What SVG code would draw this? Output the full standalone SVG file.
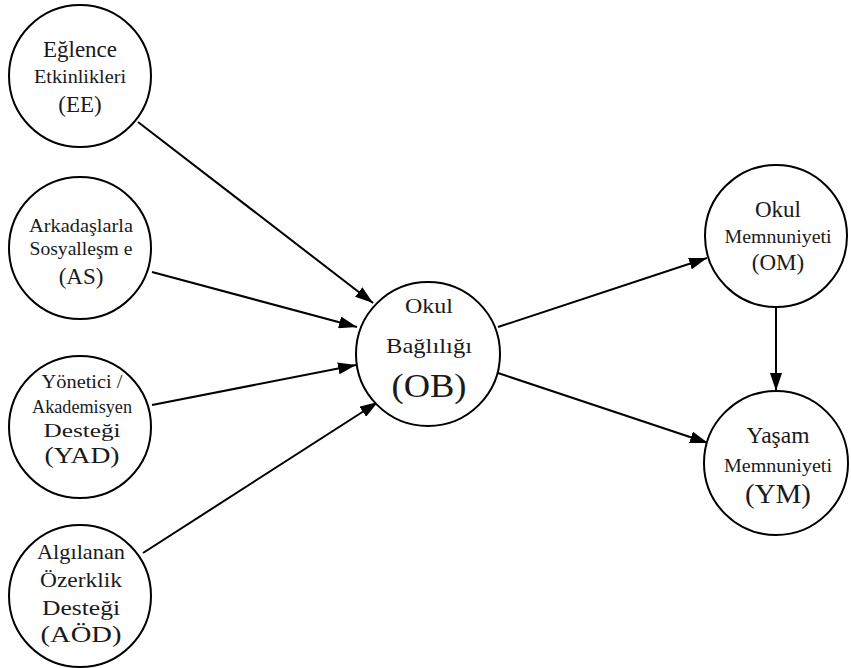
<svg xmlns="http://www.w3.org/2000/svg" width="851" height="668" viewBox="0 0 851 668">
<style>
.n{fill:#fff;stroke:#000;stroke-width:2}
.c line{stroke:#000;stroke-width:2}
text{font-family:"Liberation Serif","Times New Roman",serif;fill:#1a1a1a;text-anchor:middle}
</style>
<defs>
<marker id="ah" viewBox="0 0 18 12" refX="18" refY="6" markerWidth="18" markerHeight="12" markerUnits="userSpaceOnUse" orient="auto">
<path d="M0,0L18,6L0,12z" fill="#000"/>
</marker>
</defs>
<rect width="851" height="668" fill="#fff"/>
<g class="c">
<line x1="138" y1="122" x2="373" y2="303" marker-end="url(#ah)"/>
<line x1="152" y1="272" x2="357" y2="327" marker-end="url(#ah)"/>
<line x1="152" y1="405" x2="356" y2="365" marker-end="url(#ah)"/>
<line x1="143" y1="553" x2="378" y2="402" marker-end="url(#ah)"/>
<line x1="498" y1="327" x2="707" y2="258" marker-end="url(#ah)"/>
<line x1="498" y1="373" x2="708" y2="443" marker-end="url(#ah)"/>
<line x1="776" y1="307" x2="776" y2="391" marker-end="url(#ah)"/>
</g>
<g id="EE">
<circle class="n" cx="80" cy="76" r="71"/>
<text x="80" y="57" font-size="23">Eğlence</text>
<text x="80" y="83" font-size="18" textLength="92" lengthAdjust="spacingAndGlyphs">Etkinlikleri</text>
<text x="80" y="112" font-size="23">(EE)</text>
</g>
<g id="AS">
<circle class="n" cx="80" cy="248" r="71"/>
<text x="81" y="232" font-size="18" textLength="104" lengthAdjust="spacingAndGlyphs">Arkadaşlarla</text>
<text x="81" y="255" font-size="18" textLength="103" lengthAdjust="spacingAndGlyphs">Sosyalleşm e</text>
<text x="81" y="284" font-size="23">(AS)</text>
</g>
<g id="YAD">
<circle class="n" cx="80" cy="427" r="71"/>
<text x="82" y="388" font-size="19" textLength="81" lengthAdjust="spacingAndGlyphs">Yönetici /</text>
<text x="82" y="413" font-size="19" textLength="100" lengthAdjust="spacingAndGlyphs">Akademisyen</text>
<text x="82" y="437" font-size="19" textLength="77" lengthAdjust="spacingAndGlyphs">Desteği</text>
<text x="82" y="463" font-size="23" textLength="75" lengthAdjust="spacingAndGlyphs">(YAD)</text>
</g>
<g id="AOD">
<circle class="n" cx="80" cy="596" r="71"/>
<text x="81" y="559" font-size="21" textLength="88" lengthAdjust="spacingAndGlyphs">Algılanan</text>
<text x="81" y="587" font-size="21" textLength="82" lengthAdjust="spacingAndGlyphs">Özerklik</text>
<text x="81" y="615" font-size="21" textLength="78" lengthAdjust="spacingAndGlyphs">Desteği</text>
<text x="81" y="642" font-size="23" textLength="81" lengthAdjust="spacingAndGlyphs">(AÖD)</text>
</g>
<g id="OB">
<circle class="n" cx="428" cy="354" r="72"/>
<text x="429" y="313" font-size="22" textLength="48" lengthAdjust="spacingAndGlyphs">Okul</text>
<text x="429" y="353" font-size="22" textLength="86" lengthAdjust="spacingAndGlyphs">Bağlılığı</text>
<text x="429" y="397" font-size="34" textLength="75" lengthAdjust="spacingAndGlyphs">(OB)</text>
</g>
<g id="OM">
<circle class="n" cx="776" cy="236" r="71"/>
<text x="778" y="217" font-size="23">Okul</text>
<text x="778" y="243" font-size="18" textLength="107" lengthAdjust="spacingAndGlyphs">Memnuniyeti</text>
<text x="778" y="270" font-size="23">(OM)</text>
</g>
<g id="YM">
<circle class="n" cx="776" cy="463" r="72"/>
<text x="778" y="443" font-size="23" textLength="63" lengthAdjust="spacingAndGlyphs">Yaşam</text>
<text x="778" y="472" font-size="18" textLength="108" lengthAdjust="spacingAndGlyphs">Memnuniyeti</text>
<text x="778" y="503" font-size="27" textLength="66" lengthAdjust="spacingAndGlyphs">(YM)</text>
</g>
</svg>
